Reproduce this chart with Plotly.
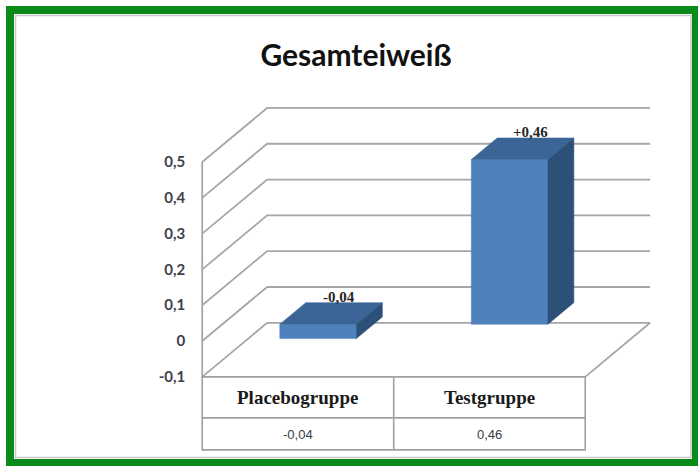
import plotly.graph_objects as go

# ---- data ----
categories = ["Placebogruppe", "Testgruppe"]
values = [-0.04, 0.46]
value_labels = ["-0,04", "+0,46"]
table_values = ["-0,04", "0,46"]
y_ticks = [-0.1, 0.0, 0.1, 0.2, 0.3, 0.4, 0.5]
y_tick_text = ["-0,1", "0", "0,1", "0,2", "0,3", "0,4", "0,5"]

# ---- canvas / axes ----
W, H = 698, 466
X_RANGE = [-1.556, 2.089]
Y_RANGE = [-0.349, 0.9525]
Y_PER_PX = (Y_RANGE[1] - Y_RANGE[0]) / H

# oblique projection of the 3D box (depth offsets in data units)
DEPTH_X = 0.339
DEPTH_Y = 0.151
FLOOR, TOP = y_ticks[0], y_ticks[-1]
X_LEFT, X_RIGHT = -0.5, len(categories) - 0.5

BAR_W = 0.40      # bar width in category units
BAR_Z0 = 0.31     # depth of the bar's front face (0 = front, 1 = back wall)
BAR_DZ = 0.40     # bar depth

FRONT_C = "#4f81bd"
TOP_C = "#3a6596"
SIDE_C = "#2d5079"
WALL_C = "#a6a6a6"
TABLE_C = "#a0a0a0"


def proj(x, y, z):
    return x + z * DEPTH_X, y + z * DEPTH_Y


fig = go.Figure()

# wall gridlines: side wall diagonal + back wall horizontal for every tick
gx, gy = [], []
for v in y_ticks:
    for (x, y) in [proj(X_LEFT, v, 0), proj(X_LEFT, v, 1), proj(X_RIGHT, v, 1)]:
        gx.append(x)
        gy.append(y)
    gx.append(None)
    gy.append(None)
# front edge of side wall
gx += [X_LEFT, X_LEFT, None]
gy += [FLOOR, TOP, None]
# right edge of the floor
for (x, y) in [proj(X_RIGHT, FLOOR, 0), proj(X_RIGHT, FLOOR, 1)]:
    gx.append(x)
    gy.append(y)
fig.add_trace(go.Scatter(x=gx, y=gy, mode="lines",
                         line=dict(color=WALL_C, width=1.8),
                         hoverinfo="skip", showlegend=False))


def face(points, color):
    xs, ys = zip(*[proj(*p) for p in points])
    fig.add_trace(go.Scatter(x=list(xs) + [xs[0]], y=list(ys) + [ys[0]],
                             mode="lines", fill="toself", fillcolor=color,
                             line=dict(color=color, width=0.5),
                             hoverinfo="skip", showlegend=False))


z0, z1 = BAR_Z0, BAR_Z0 + BAR_DZ
for i, v in enumerate(values):
    lo, hi = min(0.0, v), max(0.0, v)
    xl, xr = i - BAR_W / 2, i + BAR_W / 2
    face([(xl, lo, z0), (xr, lo, z0), (xr, hi, z0), (xl, hi, z0)], FRONT_C)
    face([(xl, hi, z0), (xr, hi, z0), (xr, hi, z1), (xl, hi, z1)], TOP_C)
    face([(xr, lo, z0), (xr, lo, z1), (xr, hi, z1), (xr, hi, z0)], SIDE_C)
    lx, ly = proj(i, hi, z0 + 0.8 * BAR_DZ)
    fig.add_annotation(x=lx, y=ly, text=value_labels[i], showarrow=False,
                       xanchor="center", yanchor="bottom", yshift=0,
                       font=dict(family="Liberation Serif", size=15,
                                 color="#262626", weight="bold"))

# data table under the chart
ROW1 = 41 * Y_PER_PX
ROW2 = 32 * Y_PER_PX
t_top, t_mid, t_bot = FLOOR, FLOOR - ROW1, FLOOR - ROW1 - ROW2
tline = dict(color=TABLE_C, width=1.6)
fig.add_shape(type="rect", xref="x", yref="y", x0=X_LEFT, x1=X_RIGHT,
              y0=t_bot, y1=t_top, line=tline)
fig.add_shape(type="line", xref="x", yref="y", x0=X_LEFT, x1=X_RIGHT,
              y0=t_mid, y1=t_mid, line=tline)
for i in range(len(categories) - 1):
    fig.add_shape(type="line", xref="x", yref="y", x0=i + 0.5, x1=i + 0.5,
                  y0=t_bot, y1=t_top, line=tline)
for i, (cat, tv) in enumerate(zip(categories, table_values)):
    fig.add_annotation(x=i, y=(t_top + t_mid) / 2, text=cat, showarrow=False,
                       font=dict(family="Liberation Serif", size=19,
                                 color="#1a1a1a", weight="bold"))
    fig.add_annotation(x=i, y=(t_mid + t_bot) / 2, text=tv, showarrow=False,
                       yshift=-1,
                       font=dict(family="Liberation Sans", size=13,
                                 color="#3a3a4a"))

# frame
fig.add_shape(type="rect", xref="paper", yref="paper",
              x0=10 / W, x1=696 / W, y0=1 - 463 / H, y1=1 - 10 / H,
              line=dict(color="#0b8a1c", width=8), layer="above")
fig.add_shape(type="rect", xref="paper", yref="paper",
              x0=15.5 / W, x1=691 / W, y0=1 - 457.5 / H, y1=1 - 15.5 / H,
              line=dict(color="#c8c8c8", width=1.5), layer="above")

fig.update_layout(
    width=W, height=H,
    margin=dict(l=0, r=0, t=0, b=0),
    paper_bgcolor="white", plot_bgcolor="white",
    title=dict(text="Gesamteiweiß", x=356 / W, y=1 - 55 / H,
               xanchor="center", yanchor="middle",
               font=dict(family="Lato", size=30, color="#111111", weight="bold")),
    xaxis=dict(range=X_RANGE, visible=False, fixedrange=True),
    yaxis=dict(range=Y_RANGE, anchor="free",
               position=(X_LEFT - X_RANGE[0]) / (X_RANGE[1] - X_RANGE[0]),
               tickvals=y_ticks, ticktext=y_tick_text, ticks="",
               showgrid=False, zeroline=False, showline=False,
               ticklabelstandoff=17,
               tickfont=dict(family="Lato", size=15, color="#40404a", weight="bold"),
               fixedrange=True),
    showlegend=False,
)

fig.write_html("out.html")
